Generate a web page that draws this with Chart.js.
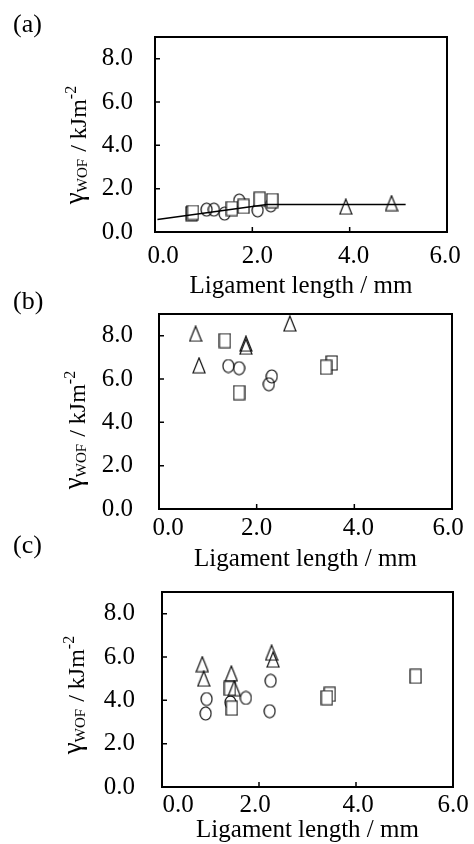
<!DOCTYPE html>
<html>
<head>
<meta charset="utf-8">
<script src="https://cdn.jsdelivr.net/npm/chart.js@4.4.1/dist/chart.umd.min.js"></script>
<style>
  html, body { margin: 0; padding: 0; background: #fff; overflow: hidden; width: 474px; height: 844px; }
  #wrap { position: relative; width: 474px; height: 844px; overflow: hidden; }
  #wrap canvas { position: absolute; left: 0; top: 0; }
</style>
</head>
<body>
<div id="wrap">
  <canvas id="pa" width="474" height="870"></canvas>
  <canvas id="pb" width="474" height="870"></canvas>
  <canvas id="pc" width="474" height="870"></canvas>
</div>
<script>
// Axis tick values shared by all three panels
const xTickValues = [0, 2, 4, 6];
const yTickValues = [0, 2, 4, 6, 8];

// Panel (a): [ligament length (mm), gamma_WOF (kJ/m^2)]
const aCircles   = [[1.06, 1.03], [1.21, 1.03], [1.43, 0.85], [1.73, 1.45], [2.11, 1.00], [2.38, 1.23]];
const aSquares   = [[0.75, 0.85], [0.78, 0.90], [1.58, 1.08], [1.82, 1.18], [2.15, 1.51], [2.41, 1.45]];
const aTriangles = [[3.92, 1.17], [4.86, 1.33]];
const aFitLine   = [[0.05, 0.58], [2.30, 1.27], [5.15, 1.27]];

// Panel (b)
const bCircles   = [[1.42, 6.60], [1.64, 6.50], [2.31, 6.12], [2.25, 5.76]];
const bSquares   = [[1.35, 7.77], [1.64, 5.37], [3.54, 6.74], [3.42, 6.54]];
const bTriangles = [[0.75, 8.09], [0.82, 6.63], [1.78, 7.63], [1.78, 7.49], [2.68, 8.56]];

// Panel (c)
const cCircles   = [[0.92, 4.06], [0.90, 3.39], [1.41, 3.90], [1.73, 4.11], [2.24, 4.90], [2.22, 3.50]];
const cSquares   = [[1.40, 4.55], [1.44, 3.64], [3.46, 4.28], [3.40, 4.12], [5.23, 5.11]];
const cTriangles = [[0.83, 5.67], [0.86, 5.00], [1.43, 5.24], [1.49, 4.56], [2.26, 6.20], [2.29, 5.88]];

const xTitle = 'Ligament length / mm';
const SERIF = "'Liberation Serif', 'Times New Roman', serif";

// Open marker glyphs drawn once and reused as point styles
function makeMarker(kind) {
  const c = document.createElement('canvas');
  const size = { circle: [13, 15], square: [13, 16], triangle: [14, 17] }[kind];
  c.width = size[0]; c.height = size[1];
  const w = size[0], h = size[1];
  const g = c.getContext('2d');
  g.strokeStyle = '#111';
  g.lineWidth = 1.2;
  g.fillStyle = '#fff';
  g.beginPath();
  if (kind === 'circle') {
    g.ellipse(w / 2, h / 2, w / 2 - 1, h / 2 - 1, 0, 0, Math.PI * 2);
  } else if (kind === 'square') {
    g.rect(1, 1, w - 2, h - 2);
    g.fill();
  } else {
    g.moveTo(w / 2, 1);
    g.lineTo(w - 1, h - 1);
    g.lineTo(1, h - 1);
    g.closePath();
  }
  g.stroke();
  return c;
}
const circleMark = makeMarker('circle');
const squareMark = makeMarker('square');
const triangleMark = makeMarker('triangle');

// Frame, inward tick marks, rotated y title with sub/superscript and panel tag
const framePlugin = {
  id: 'frame',
  beforeDraw(chart, args, opts) {
    // nudge individual x tick labels sideways
    const xs = chart.scales.x;
    const shifts = opts.xLabelShift || [];
    const items = xs.getLabelItems ? xs.getLabelItems() : [];
    items.forEach((it, i) => {
      const tr = it.options && it.options.translation;
      if (tr && xs.ticks[i]) tr[0] = xs.getPixelForValue(xs.ticks[i].value) + (shifts[i] || 0);
    });
  },
  afterDraw(chart, args, opts) {
    const { ctx, chartArea: ca, scales: { x, y } } = chart;
    ctx.save();
    ctx.strokeStyle = '#000';
    ctx.lineWidth = 2;
    ctx.strokeRect(ca.left, ca.top, ca.right - ca.left, ca.bottom - ca.top);
    ctx.lineWidth = 1.5;
    ctx.beginPath();
    x.ticks.forEach(t => {
      if (t.value > x.min && t.value < x.max) {
        const px = x.getPixelForValue(t.value);
        ctx.moveTo(px, ca.bottom);
        ctx.lineTo(px, ca.bottom - 5);
      }
    });
    y.ticks.forEach(t => {
      if (t.value > y.min && t.value < y.max) {
        const py = y.getPixelForValue(t.value);
        ctx.moveTo(ca.left, py);
        ctx.lineTo(ca.left + 5, py);
      }
    });
    ctx.stroke();

    // y-axis title: γ_WOF / kJm^-2
    const parts = [
      { t: 'γ', size: 27, dy: -3, gap: 0 },
      { t: 'WOF', size: 15, dy: 1, gap: 1 },
      { t: ' / ', size: 24, dy: 0, gap: 0 },
      { t: 'kJm', size: 24, dy: 0, gap: 0 },
      { t: '-2', size: 16, dy: -10, gap: 0 }
    ];
    let total = 0;
    parts.forEach(p => {
      ctx.font = p.size + 'px ' + SERIF;
      p.w = ctx.measureText(p.t).width + p.gap;
      total += p.w;
    });
    ctx.translate(opts.titleX, opts.titleY);
    ctx.rotate(-Math.PI / 2);
    ctx.fillStyle = '#000';
    ctx.textBaseline = 'alphabetic';
    ctx.textAlign = 'left';
    let cx = -total / 2;
    parts.forEach(p => {
      ctx.font = p.size + 'px ' + SERIF;
      ctx.fillText(p.t, cx, p.dy);
      cx += p.w;
    });
    ctx.setTransform(1, 0, 0, 1, 0, 0);

    ctx.font = '26px ' + SERIF;
    ctx.textBaseline = 'middle';
    ctx.textAlign = 'left';
    ctx.fillText(opts.tag, opts.tagX, opts.tagY);
    ctx.restore();
  }
};

function buildPanel(id, sets, p) {
  const datasets = [];
  if (sets.line) {
    datasets.push({ data: sets.line, showLine: true, pointRadius: 0, borderColor: '#000', borderWidth: 1.4, order: 0 });
  }
  datasets.push({ data: sets.triangles, pointStyle: triangleMark, pointRadius: 7, order: 1 });
  datasets.push({ data: sets.squares, pointStyle: squareMark, pointRadius: 7, order: 2 });
  datasets.push({ data: sets.circles, pointStyle: circleMark, pointRadius: 7, order: 3 });

  const H = 870;
  const xh = p.xTitleY + 15 - p.b;
  new Chart(document.getElementById(id), {
    type: 'scatter',
    data: { datasets },
    plugins: [framePlugin],
    options: {
      responsive: false,
      animation: false,
      events: [],
      layout: { padding: { left: 0, top: p.t, right: 474 - p.r, bottom: H - p.b - xh } },
      plugins: {
        legend: { display: false },
        tooltip: { enabled: false },
        frame: { titleX: p.yTitleX, titleY: p.yTitleY, tag: p.tag, tagX: 13, tagY: p.tagY, xLabelShift: p.xShift }
      },
      scales: {
        x: {
          type: 'linear', min: 0, max: 6,
          afterBuildTicks: s => { s.ticks = xTickValues.map(v => ({ value: v })); },
          afterFit: s => { s.height = xh; },
          grid: { display: false, drawTicks: false },
          border: { display: false },
          ticks: {
            color: '#000', padding: p.xPad, maxRotation: 0, autoSkip: false,
            font: { family: SERIF, size: 25 },
            callback: v => Number(v).toFixed(1)
          },
          title: { display: true, text: xTitle, color: '#000', padding: 0, font: { family: SERIF, size: 25 } }
        },
        y: {
          type: 'linear', min: 0, max: 9,
          afterBuildTicks: s => { s.ticks = yTickValues.map(v => ({ value: v })); },
          afterFit: s => { s.width = p.l; },
          grid: { display: false, drawTicks: false },
          border: { display: false },
          ticks: {
            color: '#000', padding: p.yPad, autoSkip: false,
            font: { family: SERIF, size: 25 },
            callback: v => Number(v).toFixed(1)
          }
        }
      }
    }
  });
}

buildPanel('pa', { circles: aCircles, squares: aSquares, triangles: aTriangles, line: aFitLine },
  { l: 155, t: 32, r: 447, b: 232, xPad: 9, yPad: 22, xTitleY: 286, yTitleX: 86, yTitleY: 145,
    tag: '(a)', tagY: 25, xShift: [8, 5, 4, -2] });
buildPanel('pb', { circles: bCircles, squares: bSquares, triangles: bTriangles },
  { l: 159, t: 314, r: 452, b: 509, xPad: 4, yPad: 26, xTitleY: 559, yTitleX: 85, yTitleY: 430,
    tag: '(b)', tagY: 302, xShift: [9, 0, 4, -4] });
buildPanel('pc', { circles: cCircles, squares: cSquares, triangles: cTriangles },
  { l: 162, t: 592, r: 453, b: 787, xPad: 3, yPad: 27, xTitleY: 830, yTitleX: 84, yTitleY: 695,
    tag: '(c)', tagY: 546, xShift: [16, -4, 2, 0] });
</script>
</body>
</html>
